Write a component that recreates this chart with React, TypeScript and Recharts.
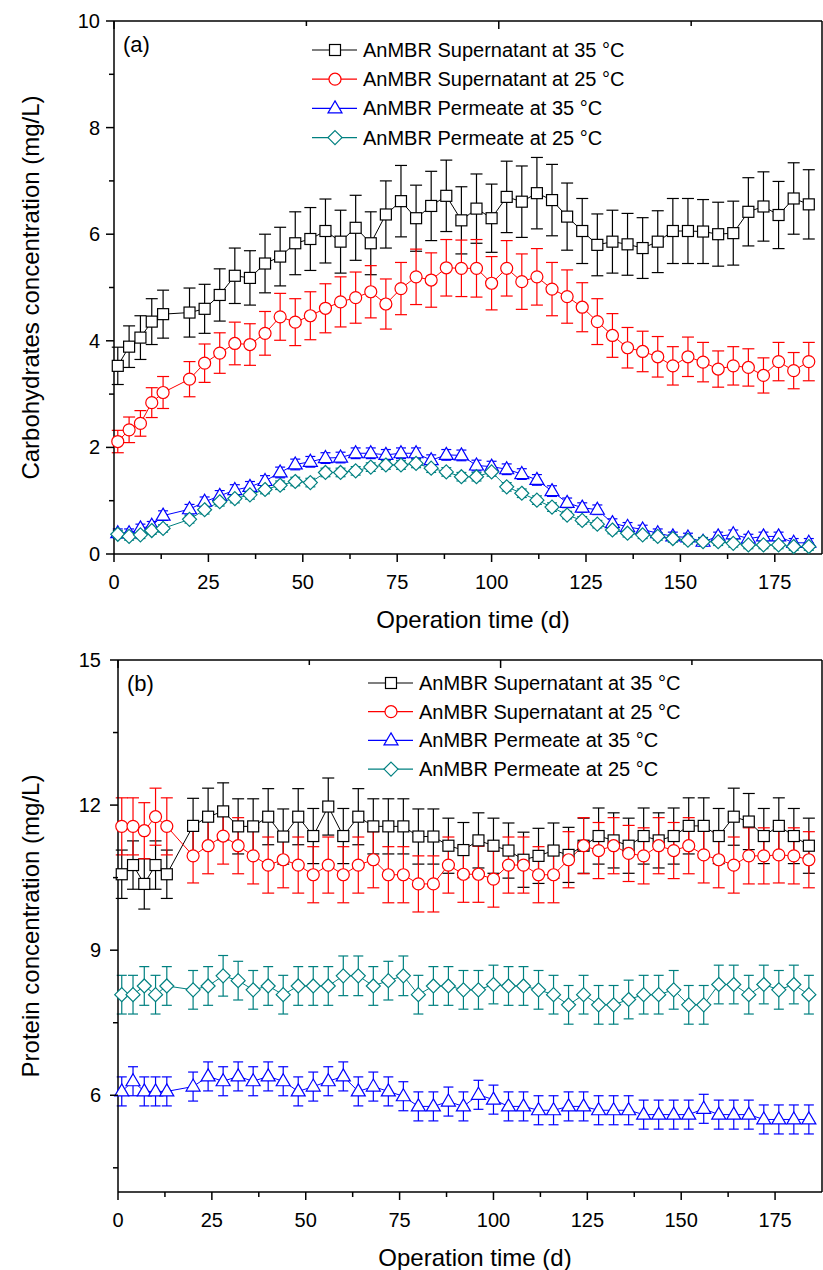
import React from 'react'
import { ComposedChart, Line, XAxis, YAxis, ErrorBar } from 'recharts'

const FONT = '"Liberation Sans", Arial, Helvetica, sans-serif'

// sampling days (d)
const days = [
  1, 4, 7, 10, 13, 20, 24, 28, 32, 36, 40, 44, 48, 52, 56, 60, 64, 68, 72, 76, 80, 84, 88, 92,
  96, 100, 104, 108, 112, 116, 120, 124, 128, 132, 136, 140, 144, 148, 152, 156, 160, 164, 168,
  172, 176, 180, 184,
]

// (a) carbohydrates, mg/L
const carbSup35 = [
  3.53, 3.89, 4.06, 4.36, 4.5, 4.53, 4.6, 4.86, 5.22, 5.18, 5.45, 5.58, 5.83, 5.91, 6.06, 5.86,
  6.12, 5.83, 6.37, 6.62, 6.3, 6.53, 6.72, 6.26, 6.48, 6.3, 6.7, 6.61, 6.77, 6.64, 6.33, 6.06,
  5.8, 5.86, 5.81, 5.74, 5.86, 6.06, 6.06, 6.05, 6.0, 6.02, 6.42, 6.52, 6.36, 6.67, 6.56,
]
const carbSup35Err = [
  0.35, 0.39, 0.41, 0.43, 0.45, 0.46, 0.46, 0.49, 0.52, 0.51, 0.55, 0.55, 0.59, 0.59, 0.6, 0.59,
  0.61, 0.59, 0.63, 0.67, 0.62, 0.65, 0.67, 0.63, 0.65, 0.64, 0.67, 0.67, 0.67, 0.67, 0.63, 0.61,
  0.58, 0.59, 0.58, 0.57, 0.58, 0.61, 0.61, 0.6, 0.6, 0.6, 0.64, 0.65, 0.63, 0.67, 0.65,
]
const carbSup25 = [
  2.11, 2.33, 2.45, 2.84, 3.03, 3.28, 3.58, 3.77, 3.95, 3.93, 4.14, 4.45, 4.35, 4.47, 4.61, 4.73,
  4.81, 4.92, 4.69, 4.98, 5.2, 5.14, 5.37, 5.36, 5.36, 5.08, 5.36, 5.11, 5.2, 4.97, 4.83, 4.63,
  4.36, 4.1, 3.87, 3.8, 3.7, 3.53, 3.7, 3.6, 3.47, 3.53, 3.5, 3.35, 3.61, 3.44, 3.61,
]
const carbSup25Err = [
  0.21, 0.24, 0.24, 0.28, 0.3, 0.33, 0.36, 0.38, 0.4, 0.39, 0.41, 0.44, 0.44, 0.45, 0.46, 0.47,
  0.48, 0.49, 0.47, 0.49, 0.52, 0.51, 0.53, 0.53, 0.54, 0.5, 0.52, 0.52, 0.53, 0.5, 0.5, 0.46,
  0.43, 0.41, 0.38, 0.38, 0.38, 0.36, 0.37, 0.37, 0.34, 0.36, 0.35, 0.33, 0.36, 0.34, 0.36,
]
const carbPer35 = [
  0.39, 0.39, 0.48, 0.53, 0.72, 0.84, 0.98, 1.09, 1.2, 1.26, 1.37, 1.53, 1.68, 1.73, 1.8, 1.81,
  1.89, 1.89, 1.86, 1.89, 1.89, 1.76, 1.86, 1.85, 1.66, 1.64, 1.59, 1.5, 1.39, 1.18, 0.96, 0.87,
  0.83, 0.58, 0.51, 0.46, 0.39, 0.33, 0.31, 0.23, 0.33, 0.37, 0.29, 0.33, 0.33, 0.21, 0.21,
]
const carbPer35Err = [
  0.08, 0.08, 0.08, 0.08, 0.09, 0.09, 0.09, 0.1, 0.1, 0.1, 0.1, 0.1, 0.1, 0.1, 0.1, 0.1, 0.1,
  0.1, 0.1, 0.1, 0.1, 0.1, 0.1, 0.1, 0.1, 0.1, 0.1, 0.1, 0.1, 0.1, 0.09, 0.09, 0.09, 0.08, 0.08,
  0.08, 0.08, 0.08, 0.08, 0.08, 0.08, 0.08, 0.08, 0.08, 0.08, 0.08, 0.08,
]
const carbPer25 = [
  0.37, 0.33, 0.36, 0.44, 0.48, 0.65, 0.83, 0.98, 1.04, 1.11, 1.21, 1.29, 1.36, 1.34, 1.53, 1.53,
  1.56, 1.63, 1.67, 1.67, 1.7, 1.61, 1.54, 1.45, 1.45, 1.54, 1.26, 1.14, 1.01, 0.88, 0.73, 0.63,
  0.56, 0.45, 0.39, 0.36, 0.33, 0.29, 0.26, 0.23, 0.23, 0.2, 0.17, 0.17, 0.17, 0.14, 0.14,
]
const carbPer25Err = [
  0.07, 0.07, 0.07, 0.07, 0.07, 0.07, 0.08, 0.08, 0.08, 0.08, 0.08, 0.08, 0.08, 0.08, 0.08, 0.08,
  0.08, 0.08, 0.08, 0.08, 0.08, 0.08, 0.08, 0.08, 0.08, 0.08, 0.08, 0.08, 0.08, 0.08, 0.07, 0.07,
  0.07, 0.07, 0.07, 0.07, 0.07, 0.07, 0.07, 0.07, 0.07, 0.07, 0.07, 0.07, 0.07, 0.07, 0.07,
]

// (b) protein, mg/L
const protSup35 = [
  10.57, 10.76, 10.37, 10.76, 10.57, 11.57, 11.76, 11.87, 11.56, 11.56, 11.76, 11.35, 11.76,
  11.36, 11.97, 11.36, 11.76, 11.56, 11.56, 11.56, 11.35, 11.35, 11.16, 11.07, 11.27, 11.16,
  11.06, 10.87, 10.95, 11.06, 10.97, 11.16, 11.36, 11.27, 11.16, 11.36, 11.27, 11.36, 11.57,
  11.57, 11.36, 11.76, 11.66, 11.36, 11.57, 11.36, 11.16,
]
const protSup35Err = [
  0.5, 0.5, 0.52, 0.5, 0.5, 0.57, 0.59, 0.59, 0.57, 0.57, 0.58, 0.57, 0.58, 0.57, 0.59, 0.57,
  0.58, 0.57, 0.57, 0.57, 0.57, 0.57, 0.57, 0.57, 0.57, 0.57, 0.57, 0.57, 0.57, 0.57, 0.57, 0.57,
  0.58, 0.57, 0.57, 0.58, 0.57, 0.58, 0.58, 0.58, 0.57, 0.59, 0.58, 0.57, 0.58, 0.57, 0.57,
]
const protSup25 = [
  11.56, 11.56, 11.47, 11.76, 11.56, 10.95, 11.16, 11.36, 11.16, 10.95, 10.76, 10.87, 10.76,
  10.56, 10.76, 10.56, 10.76, 10.87, 10.56, 10.56, 10.37, 10.37, 10.76, 10.57, 10.57, 10.47,
  10.76, 10.76, 10.56, 10.56, 10.87, 11.16, 11.06, 11.16, 11.0, 10.95, 11.16, 11.06, 11.16,
  10.97, 10.87, 10.76, 10.95, 10.95, 10.97, 10.95, 10.87,
]
const protSup25Err = [
  0.59, 0.59, 0.58, 0.59, 0.59, 0.56, 0.58, 0.58, 0.58, 0.58, 0.58, 0.58, 0.58, 0.58, 0.58, 0.58,
  0.58, 0.58, 0.58, 0.58, 0.58, 0.58, 0.58, 0.58, 0.58, 0.58, 0.58, 0.58, 0.58, 0.58, 0.58, 0.58,
  0.58, 0.58, 0.58, 0.58, 0.58, 0.58, 0.58, 0.58, 0.58, 0.58, 0.58, 0.58, 0.58, 0.58, 0.58,
]
const protPer35 = [
  6.08, 6.29, 6.08, 6.08, 6.08, 6.18, 6.39, 6.29, 6.39, 6.29, 6.39, 6.29, 6.08, 6.18, 6.29, 6.39,
  6.08, 6.18, 6.08, 5.98, 5.77, 5.77, 5.87, 5.77, 6.01, 5.91, 5.77, 5.77, 5.69, 5.69, 5.77, 5.77,
  5.69, 5.69, 5.69, 5.6, 5.6, 5.6, 5.6, 5.72, 5.6, 5.6, 5.6, 5.5, 5.5, 5.5, 5.5,
]
const protPer35Err = [
  0.3, 0.3, 0.3, 0.3, 0.3, 0.3, 0.3, 0.3, 0.3, 0.3, 0.3, 0.3, 0.3, 0.3, 0.3, 0.3, 0.3, 0.3, 0.3,
  0.3, 0.3, 0.3, 0.3, 0.3, 0.3, 0.3, 0.3, 0.3, 0.3, 0.3, 0.3, 0.3, 0.3, 0.3, 0.3, 0.3, 0.3, 0.3,
  0.3, 0.3, 0.3, 0.3, 0.3, 0.3, 0.3, 0.3, 0.3,
]
const protPer25 = [
  8.08, 8.08, 8.26, 8.08, 8.26, 8.18, 8.26, 8.47, 8.37, 8.18, 8.26, 8.08, 8.26, 8.26, 8.26, 8.47,
  8.47, 8.26, 8.37, 8.47, 8.08, 8.26, 8.26, 8.18, 8.18, 8.29, 8.26, 8.26, 8.18, 8.08, 7.87, 8.08,
  7.87, 7.87, 7.98, 8.08, 8.08, 8.18, 7.87, 7.87, 8.29, 8.29, 8.08, 8.29, 8.18, 8.29, 8.08,
]
const protPer25Err = [
  0.4, 0.4, 0.4, 0.4, 0.4, 0.4, 0.4, 0.42, 0.4, 0.4, 0.4, 0.4, 0.4, 0.4, 0.4, 0.41, 0.41, 0.4,
  0.4, 0.41, 0.4, 0.4, 0.4, 0.4, 0.4, 0.4, 0.4, 0.4, 0.4, 0.4, 0.4, 0.4, 0.4, 0.4, 0.4, 0.4, 0.4,
  0.4, 0.4, 0.4, 0.4, 0.4, 0.4, 0.4, 0.4, 0.4, 0.4,
]

const seriesNames = [
  'AnMBR Supernatant at 35 °C',
  'AnMBR Supernatant at 25 °C',
  'AnMBR Permeate at 35 °C',
  'AnMBR Permeate at 25 °C',
]
const xTicks = [0, 12.5, 25, 37.5, 50, 62.5, 75, 87.5, 100, 112.5, 125, 137.5, 150, 162.5, 175]
const carbTicks = [0, 1, 2, 3, 4, 5, 6, 7, 8, 9, 10]
const protTicks = [4.5, 6, 7.5, 9, 10.5, 12, 13.5, 15]
const X_MAX = 187.5

type Row = Record<string, number>
type Kind = 'square' | 'circle' | 'triangle' | 'diamond'
type SeriesDef = { key: string; err: string; name: string; color: string; kind: Kind; cap: number }

function makeRows(cols: number[][]): Row[] {
  return days.map((d, i) => ({
    day: d,
    s35: cols[0][i], s35e: cols[1][i],
    s25: cols[2][i], s25e: cols[3][i],
    p35: cols[4][i], p35e: cols[5][i],
    p25: cols[6][i], p25e: cols[7][i],
  }))
}

const carbRows = makeRows([carbSup35, carbSup35Err, carbSup25, carbSup25Err, carbPer35, carbPer35Err, carbPer25, carbPer25Err])
const protRows = makeRows([protSup35, protSup35Err, protSup25, protSup25Err, protPer35, protPer35Err, protPer25, protPer25Err])

const series: SeriesDef[] = [
  { key: 's35', err: 's35e', name: seriesNames[0], color: '#000000', kind: 'square', cap: 6 },
  { key: 's25', err: 's25e', name: seriesNames[1], color: '#ff0000', kind: 'circle', cap: 6 },
  { key: 'p35', err: 'p35e', name: seriesNames[2], color: '#0000ff', kind: 'triangle', cap: 5 },
  { key: 'p25', err: 'p25e', name: seriesNames[3], color: '#008080', kind: 'diamond', cap: 5 },
]

function Marker({ kind, cx, cy, color }: { kind: Kind; cx: number; cy: number; color: string }) {
  if (cx == null || cy == null || isNaN(cx) || isNaN(cy)) return null
  const common = { fill: '#ffffff', stroke: color, strokeWidth: 1.2 }
  if (kind === 'square') return <rect x={cx - 5.5} y={cy - 5.5} width={11} height={11} {...common} />
  if (kind === 'circle') return <circle cx={cx} cy={cy} r={6} {...common} />
  if (kind === 'triangle')
    return <path d={`M${cx},${cy - 7.5} L${cx + 7},${cy + 4.5} L${cx - 7},${cy + 4.5} Z`} {...common} />
  return <path d={`M${cx},${cy - 7} L${cx + 7},${cy} L${cx},${cy + 7} L${cx - 7},${cy} Z`} {...common} />
}

const AX = '#000000'
const AXW = 1.5

function BottomTick(p: any) {
  const v = p.payload.value
  const major = v % 25 === 0
  return (
    <g>
      <line x1={p.x} x2={p.x} y1={p.y} y2={p.y + (major ? 8 : 5)} stroke={AX} strokeWidth={AXW} />
      {major && (
        <text x={p.x} y={p.y + 35} textAnchor="middle" fontSize={20} fontFamily={FONT} fill="#000">
          {v}
        </text>
      )}
    </g>
  )
}

function TopTick(p: any) {
  const major = p.payload.value % 25 === 0
  return <line x1={p.x} x2={p.x} y1={p.y} y2={p.y + (major ? 8 : 5)} stroke={AX} strokeWidth={AXW} />
}

function makeLeftTick(isMajor: (v: number) => boolean, gap: number) {
  return (p: any) => {
    const v = p.payload.value
    const major = isMajor(v)
    return (
      <g>
        <line x1={p.x - (major ? 8 : 5)} x2={p.x} y1={p.y} y2={p.y} stroke={AX} strokeWidth={AXW} />
        {major && (
          <text x={p.x - gap} y={p.y + 7} textAnchor="end" fontSize={20} fontFamily={FONT} fill="#000">
            {v}
          </text>
        )}
      </g>
    )
  }
}

function makeRightTick(isMajor: (v: number) => boolean) {
  return (p: any) => {
    const major = isMajor(p.payload.value)
    return <line x1={p.x - (major ? 8 : 5)} x2={p.x} y1={p.y} y2={p.y} stroke={AX} strokeWidth={AXW} />
  }
}

function LegendBox({ x, y, gap }: { x: number; y: number; gap: number }) {
  return (
    <g>
      {series.map((s, i) => {
        const cy = y + i * gap
        return (
          <g key={s.key}>
            <line x1={x} x2={x + 45} y1={cy} y2={cy} stroke={s.color} strokeWidth={1.2} />
            <Marker kind={s.kind} cx={x + 23} cy={cy} color={s.color} />
            <text x={x + 51} y={cy + 7} fontSize={20} fontFamily={FONT} fill="#000">
              {s.name}
            </text>
          </g>
        )
      })}
    </g>
  )
}

type PanelProps = {
  top: number
  height: number
  marginTop: number
  yWidth: number
  xHeight: number
  rows: Row[]
  yDomain: [number, number]
  yTicks: number[]
  isMajor: (v: number) => boolean
  labelGap: number
  yTitle: string
  tag: string
  legendX: number
  legendY: number
  legendGap: number
}

function Panel(pp: PanelProps) {
  const W = 823
  const plotTop = pp.marginTop + 1
  const plotBottom = pp.height - pp.xHeight
  const plotLeft = pp.yWidth
  const plotRight = W - 1
  const cx = (plotLeft + plotRight) / 2
  const cy = (plotTop + plotBottom) / 2
  return (
    <div style={{ position: 'absolute', left: 0, top: pp.top, width: W, height: pp.height }}>
      <ComposedChart
        width={W}
        height={pp.height}
        data={pp.rows}
        margin={{ top: pp.marginTop, right: 0, bottom: 0, left: 0 }}
      >
        <XAxis
          dataKey="day"
          type="number"
          domain={[0, X_MAX]}
          ticks={xTicks}
          interval={0}
          height={pp.xHeight}
          tickSize={0}
          tickMargin={0}
          tickLine={false}
          axisLine={{ stroke: AX, strokeWidth: AXW }}
          tick={BottomTick}
        />
        <XAxis
          xAxisId="top"
          orientation="top"
          type="number"
          domain={[0, X_MAX]}
          ticks={xTicks}
          interval={0}
          height={1}
          tickSize={0}
          tickMargin={0}
          tickLine={false}
          axisLine={{ stroke: AX, strokeWidth: AXW }}
          tick={TopTick}
        />
        <YAxis
          type="number"
          domain={pp.yDomain}
          ticks={pp.yTicks}
          interval={0}
          width={pp.yWidth}
          tickSize={0}
          tickMargin={0}
          tickLine={false}
          axisLine={{ stroke: AX, strokeWidth: AXW }}
          tick={makeLeftTick(pp.isMajor, pp.labelGap)}
        />
        <YAxis
          yAxisId="right"
          orientation="right"
          type="number"
          domain={pp.yDomain}
          ticks={pp.yTicks}
          interval={0}
          width={1}
          tickSize={0}
          tickMargin={0}
          tickLine={false}
          axisLine={{ stroke: AX, strokeWidth: AXW }}
          tick={makeRightTick(pp.isMajor)}
        />
        {series.map((s) => (
          <Line
            key={s.key}
            type="linear"
            dataKey={s.key}
            name={s.name}
            stroke={s.color}
            strokeWidth={1}
            isAnimationActive={false}
            activeDot={false}
            dot={(d: any) => (
              <Marker key={`${s.key}-${d.index}`} kind={s.kind} cx={d.cx} cy={d.cy} color={s.color} />
            )}
          >
            <ErrorBar
              dataKey={s.err}
              direction="y"
              width={s.cap}
              stroke={s.color}
              strokeWidth={1.2}
              isAnimationActive={false}
            />
          </Line>
        ))}
      </ComposedChart>
      <svg
        width={W}
        height={pp.height}
        style={{ position: 'absolute', left: 0, top: 0, pointerEvents: 'none' }}
      >
        <text
          x={30}
          y={cy}
          transform={`rotate(-90 30 ${cy})`}
          textAnchor="middle"
          dominantBaseline="central"
          fontSize={24}
          fontFamily={FONT}
          fill="#000"
        >
          {pp.yTitle}
        </text>
        <text
          x={cx + 5}
          y={plotBottom + 74}
          textAnchor="middle"
          fontSize={24}
          fontFamily={FONT}
          fill="#000"
        >
          Operation time (d)
        </text>
        <text x={plotLeft + 9} y={plotTop + 31} fontSize={22} fontFamily={FONT} fill="#000">
          {pp.tag}
        </text>
        <LegendBox x={pp.legendX} y={pp.legendY} gap={pp.legendGap} />
      </svg>
    </div>
  )
}

export default function App() {
  return (
    <div style={{ position: 'absolute', left: 0, top: 0, width: 823, height: 1270, background: '#fff' }}>
      <Panel
        top={0}
        height={640}
        marginTop={20}
        yWidth={114}
        xHeight={86}
        rows={carbRows}
        yDomain={[0, 10]}
        yTicks={carbTicks}
        isMajor={(v) => v % 2 === 0}
        labelGap={14}
        yTitle="Carbohydrates concentration (mg/L)"
        tag="(a)"
        legendX={312}
        legendY={50}
        legendGap={29.2}
      />
      <Panel
        top={640}
        height={630}
        marginTop={19}
        yWidth={118}
        xHeight={78}
        rows={protRows}
        yDomain={[4, 15]}
        yTicks={protTicks}
        isMajor={(v) => v % 3 === 0}
        labelGap={17}
        yTitle="Protein concentration (mg/L)"
        tag="(b)"
        legendX={368}
        legendY={43}
        legendGap={28.7}
      />
    </div>
  )
}
